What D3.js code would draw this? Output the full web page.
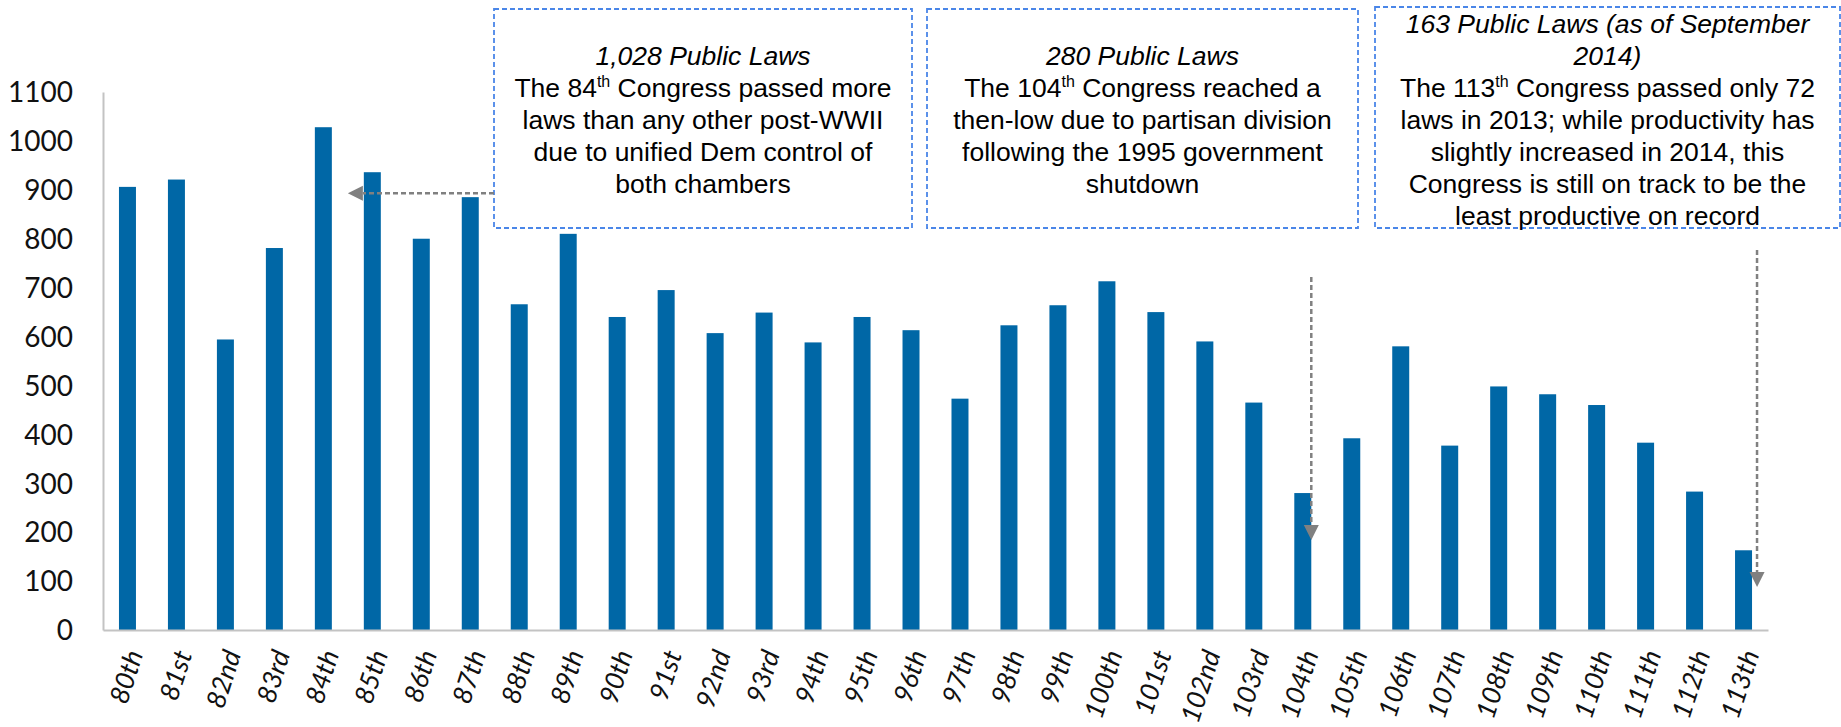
<!DOCTYPE html>
<html>
<head>
<meta charset="utf-8">
<script src="https://cdn.jsdelivr.net/npm/d3@7"></script>
<style>
  html, body { margin: 0; padding: 0; background: #ffffff; }
  svg { display: block; }
</style>
</head>
<body>
<svg id="chart" width="1841" height="727"></svg>
<script>
// ---- data ----
const categories = ["80th","81st","82nd","83rd","84th","85th","86th","87th","88th","89th",
  "90th","91st","92nd","93rd","94th","95th","96th","97th","98th","99th",
  "100th","101st","102nd","103rd","104th","105th","106th","107th","108th","109th",
  "110th","111th","112th","113th"];
const publicLaws = [906, 921, 594, 781, 1028, 936, 800, 885, 666, 810,
  640, 695, 607, 649, 588, 640, 613, 473, 623, 664,
  713, 650, 590, 465, 280, 392, 580, 377, 498, 482,
  460, 383, 283, 163];
const yTicks = [0, 100, 200, 300, 400, 500, 600, 700, 800, 900, 1000, 1100];

// annotation texts (segments: [text, superscript?])
const note1 = [
  [["1,028 Public Laws", false]],
  [["The 84", false], ["th", true], [" Congress passed more", false]],
  [["laws than any other post-WWII", false]],
  [["due to unified Dem control of", false]],
  [["both chambers", false]]
];
const note2 = [
  [["280 Public Laws", false]],
  [["The 104", false], ["th", true], [" Congress reached a", false]],
  [["then-low due to partisan division", false]],
  [["following the 1995 government", false]],
  [["shutdown", false]]
];
const note3 = [
  [["163 Public Laws (as of September", false]],
  [["2014)", false]],
  [["The 113", false], ["th", true], [" Congress passed only 72", false]],
  [["laws in 2013; while productivity has", false]],
  [["slightly increased in 2014, this", false]],
  [["Congress is still on track to be the", false]],
  [["least productive on record", false]]
];
const italicLines1 = 1, italicLines2 = 1, italicLines3 = 2;

// ---- layout ----
const svg = d3.select("#chart");
const x = d3.scaleBand().domain(categories).range([103, 1768]).paddingInner(0.653).paddingOuter(0.326);
const y = d3.scaleLinear().domain([0, 1100]).range([630, 92]);

const axisColor = "#c3c3c3";
const barColor = "#0067a6";

// y axis
const yAxis = svg.append("g")
  .attr("transform", "translate(103,0)")
  .call(d3.axisLeft(y).tickValues(yTicks).tickFormat(d3.format("d"))
    .tickSizeInner(0).tickSizeOuter(0).tickPadding(30));
yAxis.select(".domain").attr("stroke", axisColor).attr("stroke-width", 2);
yAxis.selectAll("text")
  .attr("font-family", "Lato, 'Open Sans', sans-serif")
  .attr("font-size", 28)
  .attr("fill", "#111")
  .attr("dy", "0.35em");

// bars
svg.append("g").selectAll("rect")
  .data(categories.map((c, i) => ({ c, v: publicLaws[i] })))
  .join("rect")
  .attr("x", d => x(d.c))
  .attr("width", x.bandwidth())
  .attr("y", d => y(d.v))
  .attr("height", d => y(0) - y(d.v))
  .attr("fill", barColor);

// x axis
const xAxis = svg.append("g")
  .attr("transform", "translate(0,630)")
  .call(d3.axisBottom(x).tickSizeInner(0).tickSizeOuter(0));
xAxis.select(".domain").attr("stroke", axisColor).attr("stroke-width", 2);
xAxis.selectAll(".tick text")
  .attr("font-family", "Lato, 'Open Sans', sans-serif")
  .attr("font-style", "italic")
  .attr("font-size", 26.5)
  .attr("fill", "#111")
  .attr("text-anchor", "end")
  .attr("x", 0).attr("y", 0).attr("dy", 0)
  .attr("transform", "translate(16,24) rotate(-72)");

// annotation boxes
const noteFont = 26.5;
function drawNote(lines, italicCount, bx, by, bw, bh, firstCenter) {
  const g = svg.append("g");
  g.append("rect")
    .attr("x", bx).attr("y", by).attr("width", bw).attr("height", bh)
    .attr("fill", "#ffffff")
    .attr("stroke", "#4a86e8").attr("stroke-width", 1.8)
    .attr("stroke-dasharray", "5,3");
  const cx = bx + bw / 2;
  lines.forEach((segs, i) => {
    const t = g.append("text")
      .attr("x", cx)
      .attr("y", firstCenter + i * 32 + 9.5)
      .attr("text-anchor", "middle")
      .attr("font-family", "'Liberation Sans', Arial, sans-serif")
      .attr("font-size", noteFont)
      .attr("font-style", i < italicCount ? "italic" : "normal")
      .attr("fill", "#000");
    let raised = false;
    segs.forEach(([s, sup]) => {
      const ts = t.append("tspan").text(s);
      if (sup) { ts.attr("font-size", 16).attr("dy", -10); raised = true; }
      else if (raised) { ts.attr("dy", 10); raised = false; }
    });
  });
}
drawNote(note1, italicLines1, 494, 9, 418, 219, 55);
drawNote(note2, italicLines2, 927, 9, 431, 219, 55);
drawNote(note3, italicLines3, 1375, 7, 465, 221, 23);

// arrows
const arrowColor = "#808080";
function arrow(x1, y1, x2, y2) {
  const ang = Math.atan2(y2 - y1, x2 - x1);
  const L = 15, W = 7.5;
  const bxp = x2 - L * Math.cos(ang), byp = y2 - L * Math.sin(ang);
  svg.append("line")
    .attr("x1", x1).attr("y1", y1).attr("x2", bxp).attr("y2", byp)
    .attr("stroke", arrowColor).attr("stroke-width", 2.5)
    .attr("stroke-dasharray", "5,3");
  const p1 = [bxp + W * Math.sin(ang), byp - W * Math.cos(ang)];
  const p2 = [bxp - W * Math.sin(ang), byp + W * Math.cos(ang)];
  svg.append("path")
    .attr("d", `M${x2},${y2}L${p1[0]},${p1[1]}L${p2[0]},${p2[1]}Z`)
    .attr("fill", arrowColor);
}
// 84th Congress note -> pointing left toward 84th bar
arrow(494, y(893), x("84th") + x.bandwidth() + 16, y(893));
// 104th note -> down to 104th bar
arrow(x("104th") + x.bandwidth(), y(722), x("104th") + x.bandwidth(), y(184));
// 113th note -> down to 113th bar
arrow(x("113th") + x.bandwidth() + 5, y(777), x("113th") + x.bandwidth() + 5, y(88));
</script>
</body>
</html>
